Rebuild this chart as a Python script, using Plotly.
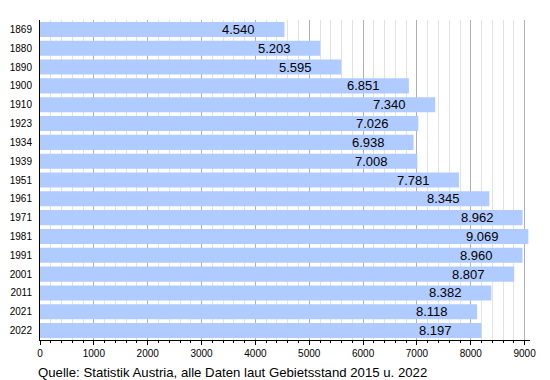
import plotly.graph_objects as go

years = ["1869", "1880", "1890", "1900", "1910", "1923", "1934", "1939", "1951",
         "1961", "1971", "1981", "1991", "2001", "2011", "2021", "2022"]
values = [4540, 5203, 5595, 6851, 7340, 7026, 6938, 7008, 7781,
          8345, 8962, 9069, 8960, 8807, 8382, 8118, 8197]
x_ticks = [0, 1000, 2000, 3000, 4000, 5000, 6000, 7000, 8000, 9000]
caption = "Quelle: Statistik Austria, alle Daten laut Gebietsstand 2015 u. 2022"

labels = [f"{v:,}".replace(",", ".") for v in values]
FONT = "Liberation Sans, Arial, sans-serif"

fig = go.Figure()
fig.add_trace(go.Bar(
    x=values, y=years, orientation="h",
    marker=dict(color="#b0cbff", line=dict(width=0)),
    width=0.8, hoverinfo="skip",
))

# annotation y on a category axis: use the category index
for i, (v, t) in enumerate(zip(values, labels)):
    fig.add_annotation(x=v, y=i, text=t, showarrow=False, xanchor="right",
                       xshift=-27,
                       font=dict(family=FONT, size=13, color="#000"))

fig.add_annotation(xref="paper", yref="paper", x=-0.008, y=-0.1, text=caption,
                   showarrow=False, xanchor="left", yanchor="middle",
                   font=dict(family=FONT, size=13.2, color="#000"))

fig.update_layout(
    width=550, height=380,
    margin=dict(l=32, r=28, t=12, b=48, autoexpand=False),
    paper_bgcolor="white", plot_bgcolor="white",
    showlegend=False, bargap=0.2,
    font=dict(family=FONT, size=10, color="#000"),
    xaxis=dict(range=[0, 9100], tickvals=x_ticks, automargin=False,
               showgrid=True, gridcolor="#b0b0b0", gridwidth=1,
               zeroline=False, showline=True, linecolor="#000", linewidth=1,
               ticks="outside", ticklen=4, tickcolor="#000",
               tickfont=dict(family=FONT, size=10),
               minor=dict(dtick=200, showgrid=True, gridcolor="#e2e2e2",
                          ticks="outside", ticklen=2, tickcolor="#000")),
    yaxis=dict(type="category", categoryorder="array", categoryarray=years,
               range=[len(years) - 0.5, -0.5], tickmode="array", tickvals=years,
               automargin=False,
               showline=True, linecolor="#000", linewidth=1, showgrid=False,
               ticks="outside", ticklen=5, tickcolor="rgba(0,0,0,0)",
               tickfont=dict(family=FONT, size=10)),
)

fig.write_html("out.html")
